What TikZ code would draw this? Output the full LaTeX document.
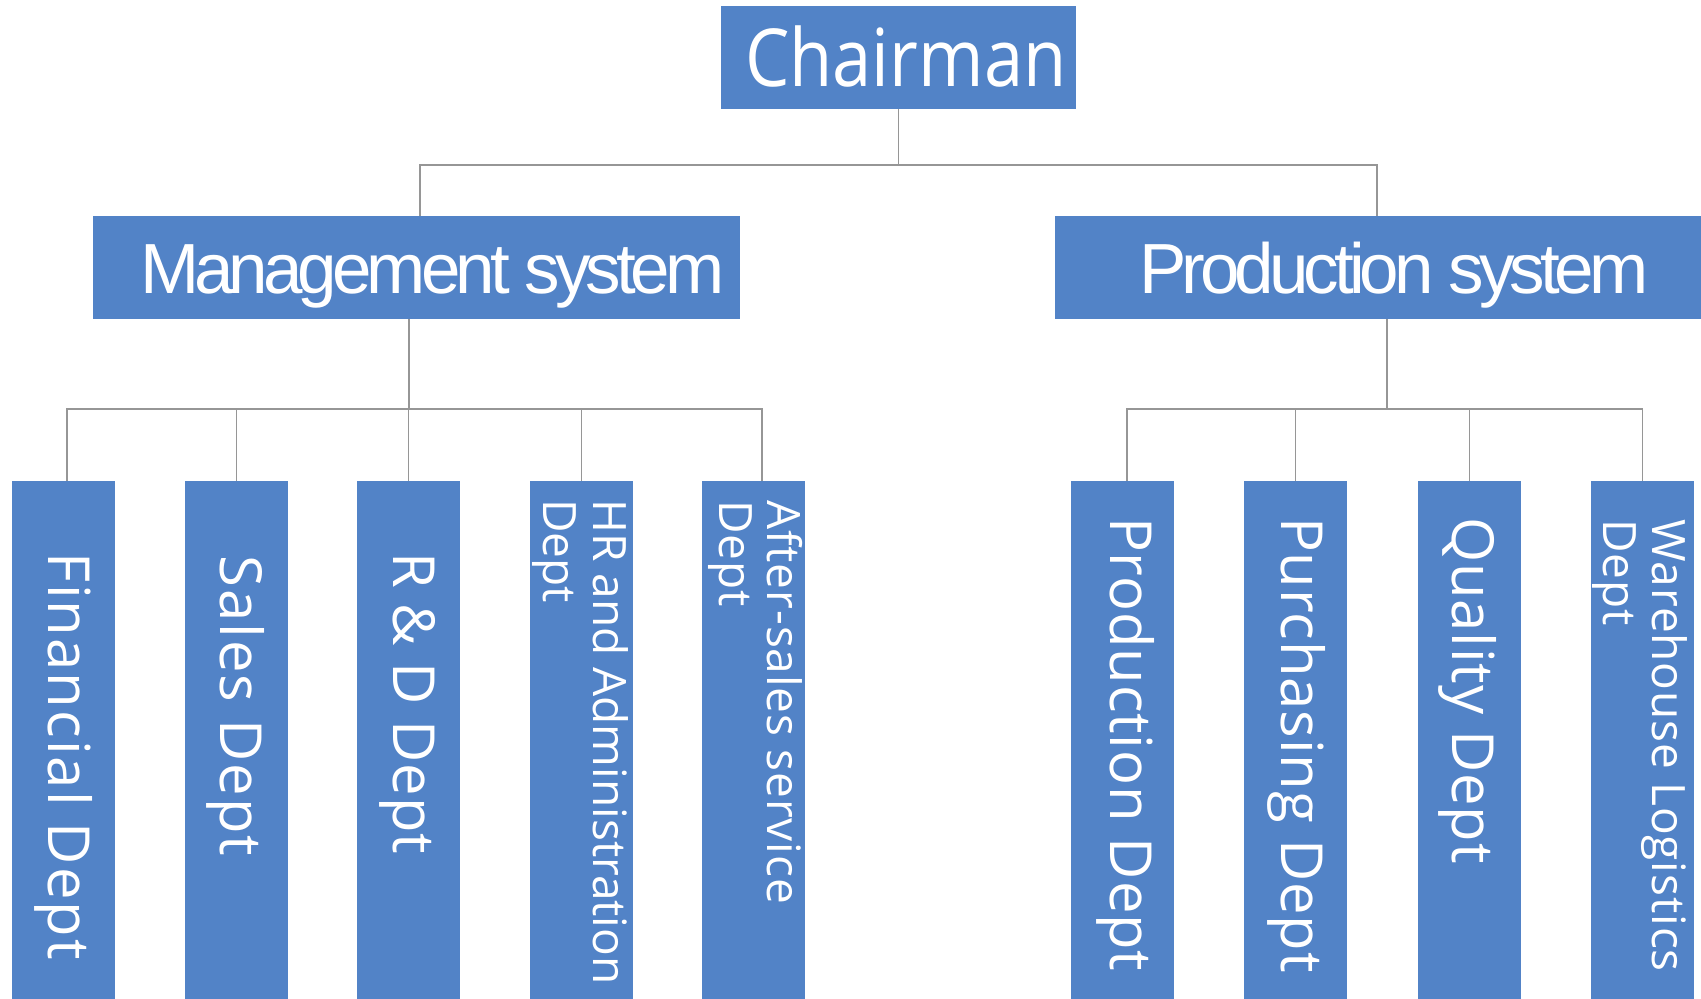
\documentclass[tikz,border=0pt]{standalone}
\usepackage{fontspec}
\setmainfont{Open Sans}
\newfontfamily\chairfont[FakeStretch=0.88]{Open Sans}
\newfontfamily\sysfont[LetterSpace=-7]{Liberation Sans}
\newfontfamily\deptfont[LetterSpace=3.5]{Open Sans}
\newfontfamily\deptnfont[LetterSpace=1.5]{Open Sans}
\newfontfamily\deptsfont[LetterSpace=2]{Open Sans}
\definecolor{boxblue}{RGB}{82,131,199}
\definecolor{lineg}{RGB}{150,150,150}
\tikzset{
  bluebox/.style={fill=boxblue, inner sep=0pt, outer sep=0pt, anchor=north west},
  topbox/.style={bluebox, minimum height=103pt},
  deptbox/.style={bluebox, minimum width=103pt, minimum height=518pt},
  hlabel/.style={text=white, inner sep=0pt, anchor=base west},
  vlabel/.style={text=white, inner sep=0pt, anchor=base west, rotate=-90, font=\deptfont\fontsize{58}{70}\selectfont},
  vlabeln/.style={vlabel, font=\deptnfont\fontsize{58}{70}\selectfont},
  vsmall/.style={vlabel, font=\fontsize{46}{50}\selectfont},
  vsmallsp/.style={vlabel, font=\deptsfont\fontsize{46}{50}\selectfont},
  conn/.style={draw=lineg, line width=1.2pt},
}
\begin{document}
\begin{tikzpicture}[x=1pt,y=-1pt]
\useasboundingbox (0,0) rectangle (1701,999);
% boxes
\node[topbox, minimum width=355pt] (chair) at (721,6) {};
\node[topbox, minimum width=647pt] (mgmt) at (93,216) {};
\node[topbox, minimum width=647pt] (prod) at (1055,216) {};
\node[deptbox] (fin) at (12,481) {};
\node[deptbox] (sales) at (185,481) {};
\node[deptbox] (rd) at (357,481) {};
\node[deptbox] (hr) at (530,481) {};
\node[deptbox] (after) at (702,481) {};
\node[deptbox] (pd) at (1071,481) {};
\node[deptbox] (pur) at (1244,481) {};
\node[deptbox] (qual) at (1418,481) {};
\node[deptbox] (wh) at (1591,481) {};
% connectors
\draw[conn] (chair.south) -- ++(0,56) -| ([xshift=3.5pt]mgmt.north);
\draw[conn] (chair.south) -- ++(0,56) -| ([xshift=-1.5pt]prod.north);
\draw[conn] ([xshift=-7.5pt]mgmt.south) -- ++(0,90) -| ([xshift=3.5pt]fin.north);
\draw[conn] ([xshift=-7.5pt]mgmt.south) -- ++(0,90) -| (sales.north);
\draw[conn] ([xshift=-7.5pt]mgmt.south) -- ++(0,90) -| (rd.north);
\draw[conn] ([xshift=-7.5pt]mgmt.south) -- ++(0,90) -| (hr.north);
\draw[conn] ([xshift=-7.5pt]mgmt.south) -- ++(0,90) -| ([xshift=8.5pt]after.north);
\draw[conn] ([xshift=8.5pt]prod.south) -- ++(0,90) -| ([xshift=4.5pt]pd.north);
\draw[conn] ([xshift=8.5pt]prod.south) -- ++(0,90) -| (pur.north);
\draw[conn] ([xshift=8.5pt]prod.south) -- ++(0,90) -| (qual.north);
\draw[conn] ([xshift=8.5pt]prod.south) -- ++(0,90) -| (wh.north);
% labels
\node[hlabel, font=\chairfont\fontsize{80}{96}\selectfont] (chairt) at (745,86) {Chairman};
\node[hlabel, font=\sysfont\fontsize{71}{85}\selectfont] (mgmtt) at (140,293) {Management system};
\node[hlabel, font=\sysfont\fontsize{71}{85}\selectfont] (prodt) at (1139,293) {Production system};
\node[vlabel] (fint) at (48,552) {Financial Dept};
\node[vlabel] (salest) at (220,555) {Sales Dept};
\node[vlabeln] (rdt) at (393,552) {R \& D Dept};
\node[vsmall] (hrta) at (593,499) {HR and Administration};
\node[vsmall] (hrtb) at (543,499) {Dept};
\node[vsmallsp] (aftta) at (767,500) {After-sales service};
\node[vsmallsp] (afttb) at (719,500) {Dept};
\node[vlabeln] (pdt) at (1110,517) {Production Dept};
\node[vlabeln] (purt) at (1281,517) {Purchasing Dept};
\node[vlabeln] (qualt) at (1452,517) {Quality Dept};
\node[vsmallsp] (whta) at (1652,519) {Warehouse Logistics};
\node[vsmallsp] (whtb) at (1603,519) {Dept};
\end{tikzpicture}
\end{document}
